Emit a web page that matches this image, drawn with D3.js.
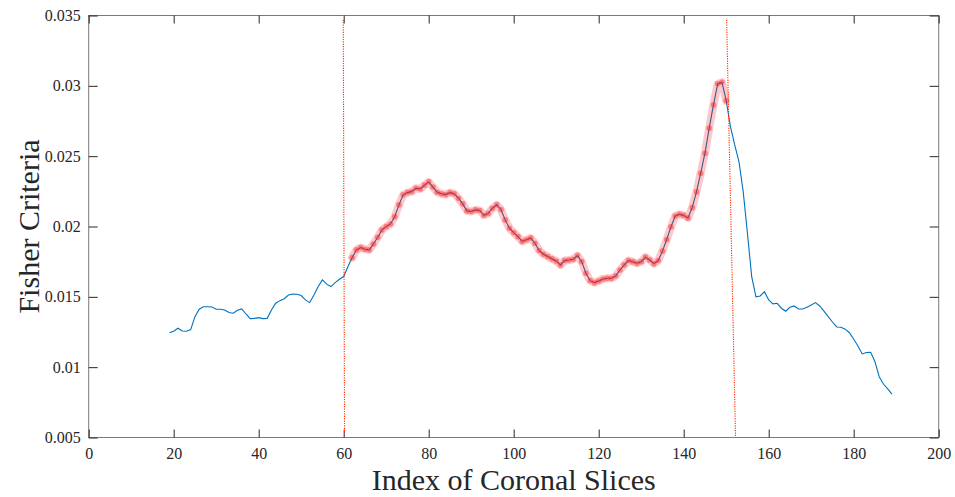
<!DOCTYPE html>
<html>
<head>
<meta charset="utf-8">
<script src="https://cdn.jsdelivr.net/npm/d3@7"></script>
<style>
  body { margin: 0; background: #fff; }
</style>
</head>
<body>
<div id="chart"></div>
<script>
// Fisher criteria per coronal slice (slice 19 .. 189)
var sliceStart = 19;
var fisher = [
  0.01245, 0.01255, 0.01277, 0.01257, 0.01255, 0.01267, 0.01359, 0.01412, 0.01430, 0.01430,
  0.01428, 0.01412, 0.01412, 0.01407, 0.01388, 0.01383, 0.01405, 0.01414, 0.01378, 0.01345,
  0.01347, 0.01352, 0.01345, 0.01347, 0.01407, 0.01455, 0.01473, 0.01487, 0.01513, 0.01520,
  0.01518, 0.01509, 0.01478, 0.01459, 0.01513, 0.01573, 0.01620, 0.01590, 0.01573, 0.01601,
  0.01625, 0.01644, 0.01715, 0.01780, 0.01834, 0.01850, 0.01838, 0.01834, 0.01876, 0.01924,
  0.01976, 0.01999, 0.02018, 0.02070, 0.02154, 0.02225, 0.02241, 0.02248, 0.02272, 0.02267,
  0.02294, 0.02317, 0.02280, 0.02244, 0.02233, 0.02227, 0.02241, 0.02233, 0.02201, 0.02161,
  0.02111, 0.02107, 0.02118, 0.02114, 0.02080, 0.02093, 0.02130, 0.02154, 0.02121, 0.02047,
  0.01988, 0.01957, 0.01928, 0.01894, 0.01905, 0.01918, 0.01881, 0.01829, 0.01803, 0.01786,
  0.01770, 0.01755, 0.01727, 0.01758, 0.01762, 0.01767, 0.01793, 0.01750, 0.01668, 0.01615,
  0.01601, 0.01613, 0.01627, 0.01632, 0.01632, 0.01649, 0.01691, 0.01727, 0.01758, 0.01750,
  0.01739, 0.01750, 0.01782, 0.01762, 0.01736, 0.01758, 0.01825, 0.01908, 0.01997, 0.02075,
  0.02087, 0.02079, 0.02061, 0.02134, 0.02246, 0.02379, 0.02521, 0.02699, 0.02865, 0.03014,
  0.03026, 0.02895, 0.02710, 0.02580, 0.02462, 0.02248, 0.01950, 0.01644, 0.01500, 0.01506,
  0.01537, 0.01478, 0.01450, 0.01454, 0.01419, 0.01398, 0.01426, 0.01435, 0.01414, 0.01414,
  0.01426, 0.01442, 0.01459, 0.01435, 0.01398, 0.01359, 0.01321, 0.01286, 0.01284, 0.01270,
  0.01245, 0.01198, 0.01151, 0.01094, 0.01104, 0.01106, 0.01039, 0.00932, 0.00880, 0.00845,
  0.00809
];

// selected slice range (highlighted)
var selected = [62, 150];

// dotted cut lines: x at top, x at bottom
var cutTop = [59.9, 150.1];
var cutBottom = [60.2, 152.2];
var cutYTop = 0.0347;

var xTicks = [0, 20, 40, 60, 80, 100, 120, 140, 160, 180, 200];
var yTicks = [0.005, 0.01, 0.015, 0.02, 0.025, 0.03, 0.035];

var xLabel = "Index of Coronal Slices";
var yLabel = "Fisher Criteria";

var serif = "'Liberation Serif', 'Times New Roman', serif";

var W = 955, H = 497,
    margin = {top: 15.5, right: 16.3, bottom: 59.5, left: 88.7},
    width = W - margin.left - margin.right,
    height = H - margin.top - margin.bottom;

var data = fisher.map(function(v, i) { return {x: sliceStart + i, y: v}; });
var sel = data.filter(function(d) { return d.x >= selected[0] && d.x <= selected[1]; });

var xScale = d3.scaleLinear().domain([0, 200]).range([0, width]);
var yScale = d3.scaleLinear().domain([0.005, 0.035]).range([height, 0]);

var svg = d3.select("#chart").append("svg")
    .attr("width", W)
    .attr("height", H)
  .append("g")
    .attr("transform", "translate(" + margin.left + "," + margin.top + ")");

var line = d3.line()
    .x(function(d) { return xScale(d.x); })
    .y(function(d) { return yScale(d.y); });

// box
svg.append("rect")
    .attr("width", width)
    .attr("height", height)
    .attr("fill", "none")
    .attr("stroke", "#7a7a7a")
    .attr("stroke-width", 1);

// axes with inward ticks on all four sides
var fmt = function(d) { return d3.format(".3~f")(d); };

var gx = svg.append("g")
    .attr("transform", "translate(0," + height + ")")
    .call(d3.axisBottom(xScale).tickValues(xTicks).tickSizeInner(-8).tickSizeOuter(0).tickPadding(10));
var gy = svg.append("g")
    .call(d3.axisLeft(yScale).tickValues(yTicks).tickFormat(fmt).tickSizeInner(-9).tickSizeOuter(0).tickPadding(8));
var gt = svg.append("g")
    .call(d3.axisTop(xScale).tickValues(xTicks).tickFormat("").tickSizeInner(-8).tickSizeOuter(0));
var gr = svg.append("g")
    .attr("transform", "translate(" + width + ",0)")
    .call(d3.axisRight(yScale).tickValues(yTicks).tickFormat("").tickSizeInner(-9).tickSizeOuter(0));

[gx, gy, gt, gr].forEach(function(g) {
  g.attr("font-family", serif).attr("font-size", 16);
  g.select(".domain").remove();
  g.selectAll(".tick line").attr("stroke", "#262626");
  g.selectAll(".tick text").attr("fill", "#262626");
});

// full curve
svg.append("path")
    .datum(data)
    .attr("fill", "none")
    .attr("stroke", "#0072BD")
    .attr("stroke-width", 1.1)
    .attr("d", line);

// highlighted range
svg.append("path")
    .datum(sel)
    .attr("fill", "none")
    .attr("stroke", "#ff0000")
    .attr("stroke-opacity", 0.22)
    .attr("stroke-width", 8)
    .attr("stroke-linejoin", "round")
    .attr("stroke-linecap", "round")
    .attr("d", line);

svg.selectAll(".pt")
    .data(sel)
    .enter().append("circle")
    .attr("class", "pt")
    .attr("cx", function(d) { return xScale(d.x); })
    .attr("cy", function(d) { return yScale(d.y); })
    .attr("r", 2.8)
    .attr("fill", "#ff2020")
    .attr("fill-opacity", 0.45);

// cut lines
svg.selectAll(".cut")
    .data(cutTop)
    .enter().append("line")
    .attr("class", "cut")
    .attr("x1", function(d) { return xScale(d); })
    .attr("y1", yScale(cutYTop))
    .attr("x2", function(d, i) { return xScale(cutBottom[i]); })
    .attr("y2", yScale(0.005))
    .attr("stroke", "#ff3000")
    .attr("stroke-width", 1.1)
    .attr("stroke-dasharray", "1.2,1.2");

// axis titles
svg.append("text")
    .attr("x", width / 2)
    .attr("y", height + 52)
    .attr("text-anchor", "middle")
    .attr("font-family", serif)
    .attr("font-size", 30)
    .attr("fill", "#262626")
    .text(xLabel);

svg.append("text")
    .attr("transform", "translate(" + (-margin.left + 39) + "," + (height / 2) + ") rotate(-90)")
    .attr("text-anchor", "middle")
    .attr("font-family", serif)
    .attr("font-size", 30)
    .attr("fill", "#262626")
    .text(yLabel);
</script>
</body>
</html>
